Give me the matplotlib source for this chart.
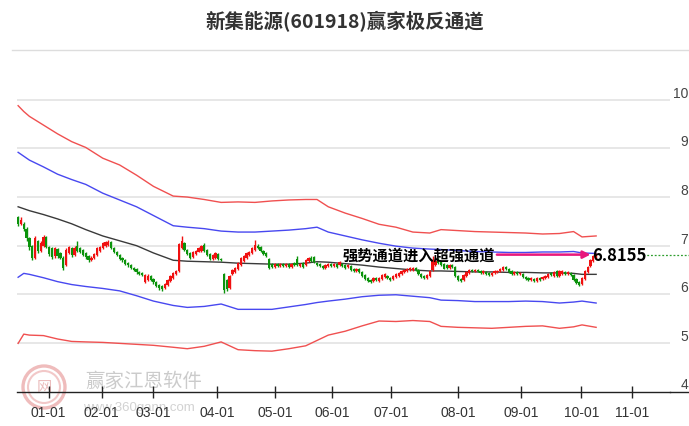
import matplotlib
matplotlib.use("Agg")
import matplotlib.pyplot as plt
from matplotlib.lines import Line2D
from matplotlib.patches import Ellipse
import numpy as np

plt.rcParams['font.family'] = ['Noto Sans CJK SC', 'DejaVu Sans']

title = "新集能源(601918)赢家极反通道"
annot_text = "强势通道进入超强通道"
last_value = 6.8155
last_label = "6.8155"

# candles (trading-day index 0..205)
opens = [7.58, 7.45, 7.45, 7.35, 7.15, 7.00, 6.75, 7.10, 6.90, 7.00,
         7.18, 6.98, 6.95, 6.78, 6.93, 6.85, 6.75, 6.60, 6.85, 6.95,
         6.80, 7.00, 6.95, 6.92, 6.85, 6.78, 6.70, 6.75, 6.80, 6.90,
         6.95, 7.00, 7.02, 7.08, 6.96, 6.88, 6.80, 6.75, 6.70, 6.65,
         6.60, 6.55, 6.52, 6.46, 6.44, 6.26, 6.30, 6.38, 6.32, 6.26,
         6.20, 6.18, 6.12, 6.20, 6.28, 6.33, 6.42, 6.48, 6.95, 7.05,
         6.92, 6.85, 6.76, 6.82, 6.88, 6.90, 7.02, 6.92, 6.82, 6.73,
         6.75, 6.82, 6.72, 6.42, 6.30, 6.12, 6.42, 6.45, 6.52, 6.60,
         6.68, 6.75, 6.80, 6.85, 6.92, 7.00, 6.98, 6.90, 6.85, 6.72,
         6.62, 6.57, 6.62, 6.58, 6.63, 6.58, 6.62, 6.57, 6.64, 6.72,
         6.58, 6.65, 6.60, 6.68, 6.75, 6.76, 6.65, 6.62, 6.58, 6.55,
         6.58, 6.62, 6.58, 6.62, 6.60, 6.63, 6.60, 6.57, 6.58, 6.52,
         6.48, 6.52, 6.46, 6.40, 6.33, 6.30, 6.27, 6.33, 6.28, 6.32,
         6.36, 6.38, 6.34, 6.31, 6.36, 6.38, 6.42, 6.45, 6.48, 6.50,
         6.50, 6.55, 6.50, 6.42, 6.38, 6.34, 6.38, 6.50, 6.60, 6.72,
         6.66, 6.62, 6.60, 6.55, 6.60, 6.56, 6.38, 6.32, 6.30, 6.38,
         6.44, 6.50, 6.47, 6.50, 6.48, 6.43, 6.45, 6.43, 6.40, 6.43,
         6.45, 6.48, 6.50, 6.57, 6.52, 6.47, 6.42, 6.45, 6.41, 6.42,
         6.36, 6.33, 6.29, 6.32, 6.28, 6.33, 6.31, 6.33, 6.36, 6.43,
         6.38, 6.47, 6.38, 6.42, 6.46, 6.41, 6.44, 6.40, 6.32, 6.26,
         6.22, 6.32, 6.45, 6.58, 6.68, 6.75]
closes = [7.45, 7.52, 7.35, 7.15, 6.98, 6.75, 7.15, 6.90, 7.05, 7.18,
          6.98, 6.82, 6.76, 6.95, 6.78, 6.75, 6.55, 6.92, 6.98, 6.80,
          6.96, 6.90, 6.88, 6.80, 6.76, 6.70, 6.75, 6.82, 6.95, 6.98,
          7.05, 7.08, 7.08, 6.95, 6.88, 6.80, 6.73, 6.70, 6.63, 6.60,
          6.55, 6.50, 6.45, 6.42, 6.40, 6.40, 6.38, 6.30, 6.25, 6.18,
          6.12, 6.10, 6.22, 6.30, 6.38, 6.43, 6.47, 7.03, 7.10, 6.92,
          6.82, 6.74, 6.88, 6.90, 6.96, 7.00, 6.90, 6.80, 6.73, 6.80,
          6.85, 6.73, 6.70, 6.08, 6.10, 6.38, 6.50, 6.55, 6.65, 6.75,
          6.78, 6.85, 6.88, 6.95, 7.02, 6.95, 6.90, 6.82, 6.78, 6.55,
          6.57, 6.62, 6.58, 6.63, 6.58, 6.62, 6.57, 6.63, 6.60, 6.60,
          6.63, 6.57, 6.70, 6.75, 6.68, 6.66, 6.60, 6.58, 6.55, 6.60,
          6.62, 6.58, 6.62, 6.57, 6.66, 6.58, 6.55, 6.60, 6.50, 6.48,
          6.53, 6.45, 6.38, 6.32, 6.28, 6.26, 6.33, 6.29, 6.34, 6.40,
          6.42, 6.33, 6.30, 6.38, 6.41, 6.43, 6.48, 6.50, 6.53, 6.54,
          6.55, 6.50, 6.42, 6.36, 6.33, 6.40, 6.48, 6.70, 6.68, 6.65,
          6.60, 6.53, 6.55, 6.60, 6.56, 6.38, 6.30, 6.27, 6.40, 6.46,
          6.50, 6.47, 6.50, 6.47, 6.43, 6.47, 6.41, 6.40, 6.44, 6.47,
          6.48, 6.53, 6.56, 6.52, 6.45, 6.42, 6.45, 6.41, 6.44, 6.35,
          6.31, 6.29, 6.33, 6.28, 6.33, 6.30, 6.36, 6.38, 6.41, 6.40,
          6.46, 6.38, 6.47, 6.47, 6.42, 6.45, 6.40, 6.30, 6.24, 6.20,
          6.34, 6.48, 6.56, 6.70, 6.78, 6.82]
highs = [7.62, 7.60, 7.48, 7.38, 7.18, 7.02, 7.20, 7.12, 7.10, 7.22,
         7.20, 7.00, 6.98, 6.98, 6.95, 6.88, 6.78, 6.95, 7.00, 6.97,
         6.99, 7.10, 6.98, 6.94, 6.87, 6.80, 6.78, 6.85, 6.97, 7.00,
         7.07, 7.10, 7.12, 7.10, 6.98, 6.90, 6.82, 6.77, 6.72, 6.67,
         6.62, 6.57, 6.54, 6.48, 6.46, 6.42, 6.41, 6.40, 6.34, 6.28,
         6.22, 6.20, 6.24, 6.32, 6.40, 6.45, 6.50, 7.05, 7.20, 7.07,
         6.94, 6.87, 6.90, 6.92, 6.98, 7.02, 7.06, 6.94, 6.84, 6.83,
         6.88, 6.84, 6.74, 6.44, 6.32, 6.40, 6.52, 6.57, 6.67, 6.77,
         6.80, 6.87, 6.90, 6.97, 7.12, 7.03, 7.00, 6.92, 6.87, 6.74,
         6.64, 6.64, 6.64, 6.65, 6.65, 6.64, 6.64, 6.65, 6.66, 6.78,
         6.65, 6.67, 6.72, 6.77, 6.79, 6.78, 6.67, 6.64, 6.60, 6.62,
         6.64, 6.64, 6.64, 6.64, 6.68, 6.65, 6.62, 6.62, 6.60, 6.54,
         6.55, 6.54, 6.48, 6.42, 6.35, 6.32, 6.35, 6.35, 6.36, 6.42,
         6.44, 6.40, 6.36, 6.40, 6.43, 6.45, 6.50, 6.52, 6.55, 6.56,
         6.57, 6.57, 6.52, 6.44, 6.40, 6.42, 6.50, 6.78, 6.72, 6.74,
         6.68, 6.64, 6.62, 6.62, 6.62, 6.58, 6.40, 6.34, 6.42, 6.48,
         6.52, 6.52, 6.52, 6.52, 6.50, 6.49, 6.47, 6.45, 6.46, 6.49,
         6.50, 6.55, 6.58, 6.59, 6.54, 6.49, 6.47, 6.47, 6.46, 6.44,
         6.38, 6.35, 6.35, 6.34, 6.35, 6.35, 6.38, 6.40, 6.43, 6.45,
         6.48, 6.49, 6.49, 6.49, 6.48, 6.47, 6.46, 6.42, 6.34, 6.28,
         6.36, 6.50, 6.58, 6.72, 6.80, 6.84]
lows = [7.40, 7.42, 7.30, 7.10, 6.92, 6.70, 6.72, 6.85, 6.88, 6.97,
        6.95, 6.78, 6.72, 6.75, 6.75, 6.72, 6.50, 6.58, 6.83, 6.77,
        6.78, 6.88, 6.85, 6.78, 6.73, 6.67, 6.68, 6.73, 6.78, 6.88,
        6.93, 6.98, 7.00, 6.93, 6.85, 6.78, 6.70, 6.67, 6.60, 6.57,
        6.52, 6.47, 6.42, 6.39, 6.37, 6.24, 6.28, 6.27, 6.22, 6.15,
        6.09, 6.06, 6.10, 6.18, 6.26, 6.31, 6.40, 6.46, 6.93, 6.90,
        6.80, 6.72, 6.74, 6.80, 6.86, 6.88, 6.88, 6.78, 6.71, 6.71,
        6.73, 6.71, 6.68, 6.03, 6.07, 6.10, 6.40, 6.43, 6.50, 6.58,
        6.66, 6.73, 6.78, 6.83, 6.90, 6.93, 6.88, 6.80, 6.76, 6.52,
        6.55, 6.55, 6.56, 6.56, 6.56, 6.56, 6.55, 6.55, 6.58, 6.58,
        6.56, 6.55, 6.58, 6.66, 6.66, 6.64, 6.58, 6.56, 6.53, 6.53,
        6.56, 6.56, 6.56, 6.55, 6.58, 6.56, 6.53, 6.55, 6.48, 6.46,
        6.46, 6.43, 6.36, 6.30, 6.26, 6.23, 6.25, 6.27, 6.26, 6.30,
        6.34, 6.31, 6.28, 6.29, 6.34, 6.36, 6.40, 6.43, 6.46, 6.48,
        6.48, 6.48, 6.40, 6.34, 6.31, 6.32, 6.36, 6.48, 6.58, 6.63,
        6.58, 6.51, 6.53, 6.53, 6.54, 6.36, 6.28, 6.25, 6.28, 6.36,
        6.42, 6.45, 6.45, 6.45, 6.41, 6.41, 6.39, 6.38, 6.38, 6.41,
        6.43, 6.46, 6.48, 6.50, 6.43, 6.40, 6.40, 6.39, 6.39, 6.33,
        6.29, 6.27, 6.27, 6.26, 6.26, 6.28, 6.29, 6.31, 6.34, 6.38,
        6.36, 6.36, 6.36, 6.40, 6.40, 6.39, 6.38, 6.28, 6.22, 6.18,
        6.20, 6.30, 6.43, 6.56, 6.66, 6.73]

# channel lines, read at these trading-day indices
band_idx = [0, 2, 4, 9, 14, 19, 24, 30, 36, 42, 48, 55, 60, 66, 72, 78, 84, 90, 96,
            102, 106, 110, 116, 122, 128, 134, 140, 146, 150, 156, 162, 168, 174,
            180, 186, 192, 197, 200, 205]
upper_red = [9.88, 9.76, 9.66, 9.48, 9.30, 9.14, 9.02, 8.80, 8.66, 8.45, 8.22, 8.02,
             8.00, 7.95, 7.89, 7.90, 7.89, 7.92, 7.94, 7.95, 7.95, 7.80, 7.67, 7.56,
             7.44, 7.38, 7.28, 7.26, 7.33, 7.31, 7.29, 7.28, 7.27, 7.26, 7.24, 7.25,
             7.29, 7.18, 7.20]
upper_blue = [8.92, 8.84, 8.76, 8.62, 8.47, 8.36, 8.26, 8.08, 7.94, 7.80, 7.62, 7.41,
              7.38, 7.35, 7.30, 7.28, 7.28, 7.30, 7.32, 7.35, 7.38, 7.28, 7.20, 7.12,
              7.05, 6.99, 6.95, 6.93, 6.92, 6.90, 6.88, 6.87, 6.86, 6.86, 6.87, 6.87,
              6.88, 6.85, 6.84]
middle = [7.80, 7.76, 7.72, 7.64, 7.55, 7.45, 7.33, 7.20, 7.10, 7.00, 6.85, 6.70,
          6.68, 6.67, 6.66, 6.64, 6.63, 6.62, 6.62, 6.64, 6.67, 6.66, 6.63, 6.60,
          6.56, 6.53, 6.50, 6.48, 6.48, 6.47, 6.46, 6.46, 6.45, 6.45, 6.44, 6.44,
          6.43, 6.41, 6.41]
lower_blue = [6.35, 6.43, 6.41, 6.34, 6.26, 6.20, 6.16, 6.12, 6.07, 5.97, 5.86, 5.77,
              5.73, 5.75, 5.80, 5.69, 5.69, 5.69, 5.74, 5.79, 5.83, 5.86, 5.90, 5.95,
              5.98, 5.99, 5.96, 5.93, 5.88, 5.87, 5.85, 5.85, 5.85, 5.86, 5.85, 5.82,
              5.84, 5.86, 5.82]
lower_red = [4.99, 5.18, 5.16, 5.15, 5.08, 5.03, 5.02, 5.01, 4.99, 4.97, 4.95, 4.91,
             4.88, 4.93, 5.02, 4.86, 4.84, 4.83, 4.88, 4.94, 5.05, 5.16, 5.24, 5.35,
             5.45, 5.44, 5.46, 5.44, 5.34, 5.32, 5.31, 5.30, 5.32, 5.34, 5.35, 5.30,
             5.33, 5.37, 5.32]

tick_pos = [10.8, 29.6, 47.9, 70.5, 91.1, 111.3, 132.4, 156.1, 178.4, 199.8, 217.7]
tick_labels = ["01-01", "02-01", "03-01", "04-01", "05-01", "06-01", "07-01",
               "08-01", "09-01", "10-01", "11-01"]
y_ticks = [4, 5, 6, 7, 8, 9, 10]

W, H = 689, 427
fig = plt.figure(figsize=(W / 100, H / 100), dpi=100)

def fx(px):
    return px / W

def fy(py):
    return 1 - py / H

ax_l, ax_r, ax_t, ax_b = 17, 670, 60, 392.5
ax = fig.add_axes([fx(ax_l), fy(ax_b), fx(ax_r - ax_l), (ax_b - ax_t) / H])
ax.patch.set_alpha(0)
ax.set_zorder(2)
ax.set_xlim(-0.4, 231.2)
ax.set_ylim(4, 10.84)

# watermark (behind)
for d, col, lw in [(42, '#efbcbc', 2.4), (32, '#f2c8c8', 1.5)]:
    fig.add_artist(Ellipse((fx(44), fy(388)), d / W, d / H, transform=fig.transFigure,
                           facecolor='none', edgecolor=col, lw=lw, zorder=1))
fig.text(fx(44), fy(388), "网", color='#ebbcbc', fontsize=11, ha='center', va='center',
         zorder=1)
fig.text(fx(85), fy(381), "赢家江恩软件", color='#cbcbcb', fontsize=14, ha='left',
         va='center', zorder=1)
fig.text(fx(83), fy(408), "www.360gann.com", color='#d2d2d2', fontsize=9.5, ha='left',
         va='center', family=['Liberation Sans', 'DejaVu Sans'], zorder=1)

# grid
for yv in y_ticks[1:]:
    ax.axhline(yv, color='#e3e3e3', lw=1.2, zorder=0)

# channel lines
ax.plot(band_idx, upper_red, color='#f05050', lw=1.0, zorder=2)
ax.plot(band_idx, upper_blue, color='#4848f0', lw=1.0, zorder=2)
ax.plot(band_idx, middle, color='#3a3a3a', lw=1.0, zorder=2)
ax.plot(band_idx, lower_blue, color='#4848f0', lw=1.0, zorder=2)
ax.plot(band_idx, lower_red, color='#f05050', lw=1.0, zorder=2)

# candles
o = np.array(opens); c = np.array(closes); h = np.array(highs); l = np.array(lows)
idx = np.arange(len(o))
up = c >= o
cols = np.where(up, '#f01010', '#0b930b')
ax.vlines(idx, l, h, colors=cols, lw=1.0, zorder=3)
ax.bar(idx, np.abs(c - o), bottom=np.minimum(o, c), width=0.8, color=cols,
       linewidth=0, zorder=3)

# annotation
ax.text(115.2, last_value, annot_text, fontsize=11, fontweight='bold', color='black',
        ha='left', va='center', zorder=5)
ax.annotate('', xy=(203.0, last_value), xytext=(169.8, last_value),
            arrowprops=dict(arrowstyle='-|>', color='#e8187c', lw=1.8,
                            mutation_scale=11, shrinkA=0, shrinkB=0), zorder=5)
ax.text(203.5, last_value, last_label, fontsize=12, fontweight='bold', color='black',
        ha='left', va='center', zorder=5)
ax.plot([221.5, 238.0], [last_value, last_value], color='#2e9e2e', lw=0.9,
        linestyle=(0, (1.5, 1.5)), clip_on=False, zorder=4)

# axes styling
for s in ['top', 'left', 'right']:
    ax.spines[s].set_visible(False)
ax.spines['bottom'].set_color('#222222')
ax.spines['bottom'].set_linewidth(1.0)
fig.add_artist(Line2D([fx(ax_r), 1.0], [fy(ax_b), fy(ax_b)], color='#222222', lw=1.0))
fig.add_artist(Line2D([fx(12), 1.0], [fy(51), fy(51)], color='#dddddd', lw=1.0))

ax.set_xticks(tick_pos)
ax.set_xticklabels(tick_labels, family=['Liberation Sans Narrow', 'Liberation Sans', 'DejaVu Sans'],
                   fontsize=10, color='#333333')
ax.tick_params(axis='x', direction='inout', length=9, width=1.0, color='#222222', pad=5)

ax.set_yticks(y_ticks)
ax.yaxis.tick_right()
ax.set_yticklabels([str(v) for v in y_ticks],
                   family=['Liberation Sans Narrow', 'Liberation Sans', 'DejaVu Sans'],
                   fontsize=10, color='#444444')
ax.tick_params(axis='y', length=0, pad=13)
for lab in ax.get_yticklabels():
    lab.set_horizontalalignment('right')
    lab.set_verticalalignment('bottom')

fig.text(0.5, fy(22), title, fontsize=14, fontweight='bold', color='#333333',
         ha='center', va='center')

fig.savefig('out.png', dpi=100)
